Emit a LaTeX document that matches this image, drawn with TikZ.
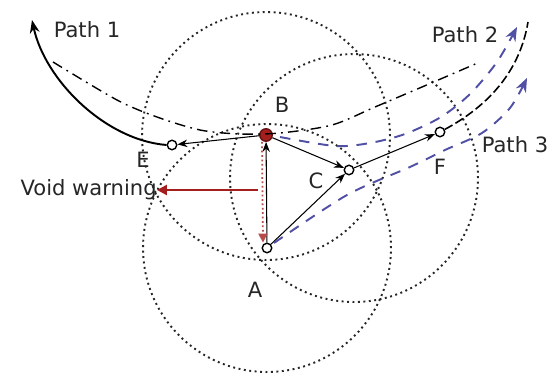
\documentclass[tikz,border=0pt]{standalone}
\usepackage{fontspec}
\setmainfont{DejaVu Sans}
\usetikzlibrary{arrows.meta}
\definecolor{voidred}{RGB}{165,30,30}
\definecolor{pathblue}{RGB}{80,80,165}

\begin{document}
\begin{tikzpicture}[x=0.02cm, y=-0.02cm,
    nd/.style={draw, circle, fill=white, inner sep=0pt, minimum size=0.19cm, line width=0.8pt},
    lbl/.style={font=\fontsize{12}{14}\selectfont, text=black!85},
    txrange/.style={dash pattern=on 1.1pt off 2pt, line width=1.1pt, black!85},
    arr/.style={-{Stealth[length=2mm]}, line width=0.6pt},
    blue dash/.style={pathblue, line width=1.1pt, dash pattern=on 6pt off 5pt,
      -{Stealth[length=2.8mm, width=2.2mm]}},
  ]
  \useasboundingbox (0,0) rectangle (549,375);

  % transmission ranges
  \draw[txrange] (267,248) circle[radius=2.48cm];
  \draw[txrange] (266,136) circle[radius=2.48cm];
  \draw[txrange] (354,178) circle[radius=2.48cm];

  % nodes
  \node[nd] (A) at (267,248) {};
  \node[nd, fill=voidred, draw=voidred!60!black, minimum size=0.25cm] (B) at (266,135) {};
  \node[nd] (C) at (349,170) {};
  \node[nd] (E) at (172,145) {};
  \node[nd] (F) at (440,132) {};
  \coordinate (p1end) at (32,20);
  \coordinate (p2end) at (528,22);

  \node[lbl] (lA) at (255,290) {A};
  \node[lbl] (lB) at (282,105) {B};
  \node[lbl] (lC) at (316,181) {C};
  \node[lbl] (lE) at (143,160) {E};
  \node[lbl] (lF) at (440,167) {F};
  \node[lbl] (path1) at (87,30) {Path 1};
  \node[lbl] (path2) at (465,35) {Path 2};
  \node[lbl] (path3) at (515,145) {Path 3};
  \node[lbl, anchor=east, inner sep=0pt] (warn) at (157,190) {Void warning};

  % Path 1
  \draw[arr] (A) -- (B);
  \draw[arr] (B) -- (E);
  \draw[line width=1.1pt, -{Stealth[length=2.6mm]}] (E.west) .. controls (105,140) and (45,80) .. (p1end);
  % void warning
  \draw[voidred!80, line width=1pt, dash pattern=on 1pt off 1.5pt, -{Triangle[length=1.8mm, width=1.8mm]}]
    ([xshift=-0.08cm]B.south) -- ([xshift=-0.08cm]A.north);
  \draw[voidred, line width=1.5pt, -{Triangle[length=2mm, width=2mm]}] (258,190) -- (warn.east);

  % Path 2
  \draw[arr] (B) -- (C);
  \draw[arr] (A) -- (C);
  \draw[arr] (C) -- (F);
  \draw[line width=0.9pt, dash pattern=on 5pt off 2pt] (F) .. controls (490,105) and (520,70) .. (p2end);
  \draw[line width=0.8pt, dash pattern=on 6pt off 3pt on 1pt off 3pt]
    plot[smooth] coordinates {(53,62) (117,100) (157,117) (200,130) (240,134) (280,133) (332,125) (375,107) (422,87) (480,62)};

  % Path 3
  \draw[blue dash] plot[smooth] coordinates {(280,137) (335,146) (370,143) (405,134) (441,117) (470,94) (497,62) (517,27)};
  \draw[blue dash] plot[smooth] coordinates {(274,243) (347,195) (410,167) (445,150) (482,133) (510,108) (527,78)};
\end{tikzpicture}
\end{document}
